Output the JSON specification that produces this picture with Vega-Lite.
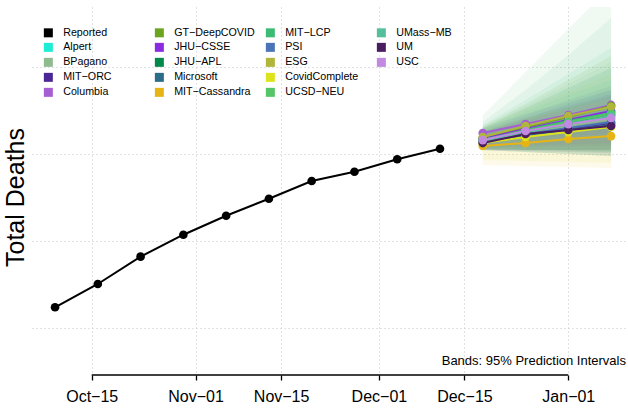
{
  "$schema": "https://vega.github.io/schema/vega-lite/v6.json",
  "width": 596,
  "height": 365,
  "autosize": {"type": "none"},
  "padding": {"left": 32, "top": 7, "right": 0, "bottom": 36},
  "background": "white",
  "config": {
    "view": {"stroke": null},
    "font": "Liberation Sans",
    "axis": {"labelColor": "black", "titleColor": "black", "titleFontWeight": "normal"}
  },
  "data": {
    "values": [
      {"model": "Reported", "date": "2020-10-09", "deaths": 211900},
      {"model": "Reported", "date": "2020-10-16", "deaths": 225300},
      {"model": "Reported", "date": "2020-10-23", "deaths": 241000},
      {"model": "Reported", "date": "2020-10-30", "deaths": 253600},
      {"model": "Reported", "date": "2020-11-06", "deaths": 264500},
      {"model": "Reported", "date": "2020-11-13", "deaths": 274300},
      {"model": "Reported", "date": "2020-11-20", "deaths": 284500},
      {"model": "Reported", "date": "2020-11-27", "deaths": 289800},
      {"model": "Reported", "date": "2020-12-04", "deaths": 297000},
      {"model": "Reported", "date": "2020-12-11", "deaths": 303000},

      {"model": "Alpert", "date": "2020-12-18", "deaths": 308000, "lo": 302900, "hi": 314400},
      {"model": "Alpert", "date": "2020-12-25", "deaths": 313800, "lo": 302300, "hi": 324100},
      {"model": "Alpert", "date": "2021-01-01", "deaths": 319000, "lo": 302300, "hi": 333900},
      {"model": "Alpert", "date": "2021-01-08", "deaths": 324100, "lo": 302900, "hi": 342500},

      {"model": "BPagano", "date": "2020-12-18", "deaths": 307500, "lo": 302300, "hi": 315500},
      {"model": "BPagano", "date": "2020-12-25", "deaths": 312100, "lo": 301700, "hi": 327600},
      {"model": "BPagano", "date": "2021-01-01", "deaths": 316100, "lo": 301100, "hi": 340200},
      {"model": "BPagano", "date": "2021-01-08", "deaths": 320100, "lo": 300600, "hi": 352900},

      {"model": "MIT-ORC", "date": "2020-12-18", "deaths": 306900, "lo": 302300, "hi": 312600},
      {"model": "MIT-ORC", "date": "2020-12-25", "deaths": 310900, "lo": 301700, "hi": 319500},
      {"model": "MIT-ORC", "date": "2021-01-01", "deaths": 314400, "lo": 301100, "hi": 326400},
      {"model": "MIT-ORC", "date": "2021-01-08", "deaths": 317800, "lo": 300600, "hi": 333300},

      {"model": "Columbia", "date": "2020-12-18", "deaths": 312100, "lo": 308000, "hi": 314900},
      {"model": "Columbia", "date": "2020-12-25", "deaths": 317200, "lo": 309200, "hi": 323000},
      {"model": "Columbia", "date": "2021-01-01", "deaths": 322400, "lo": 310300, "hi": 329900},
      {"model": "Columbia", "date": "2021-01-08", "deaths": 328200, "lo": 311500, "hi": 336800},

      {"model": "GT-DeepCOVID", "date": "2020-12-18", "deaths": 309200, "lo": 303400, "hi": 316100},
      {"model": "GT-DeepCOVID", "date": "2020-12-25", "deaths": 315500, "lo": 304000, "hi": 328700},
      {"model": "GT-DeepCOVID", "date": "2021-01-01", "deaths": 321300, "lo": 304600, "hi": 342500},
      {"model": "GT-DeepCOVID", "date": "2021-01-08", "deaths": 327600, "lo": 304600, "hi": 356300},

      {"model": "JHU-CSSE", "date": "2020-12-18", "deaths": 308600, "lo": 304600, "hi": 313200},
      {"model": "JHU-CSSE", "date": "2020-12-25", "deaths": 314400, "lo": 305200, "hi": 320700},
      {"model": "JHU-CSSE", "date": "2021-01-01", "deaths": 319500, "lo": 305700, "hi": 327600},
      {"model": "JHU-CSSE", "date": "2021-01-08", "deaths": 324700, "lo": 306300, "hi": 334500},

      {"model": "JHU-APL", "date": "2020-12-18", "deaths": 308000, "lo": 302900, "hi": 314900},
      {"model": "JHU-APL", "date": "2020-12-25", "deaths": 313200, "lo": 302300, "hi": 326400},
      {"model": "JHU-APL", "date": "2021-01-01", "deaths": 317800, "lo": 302300, "hi": 337900},
      {"model": "JHU-APL", "date": "2021-01-08", "deaths": 322400, "lo": 301700, "hi": 349400},

      {"model": "Microsoft", "date": "2020-12-18", "deaths": 306900, "lo": 302300, "hi": 312600},
      {"model": "Microsoft", "date": "2020-12-25", "deaths": 310900, "lo": 301100, "hi": 320700},
      {"model": "Microsoft", "date": "2021-01-01", "deaths": 313800, "lo": 300000, "hi": 328700},
      {"model": "Microsoft", "date": "2021-01-08", "deaths": 316700, "lo": 298900, "hi": 336800},

      {"model": "MIT-Cassandra", "date": "2020-12-18", "deaths": 304600, "lo": 293700, "hi": 310300},
      {"model": "MIT-Cassandra", "date": "2020-12-25", "deaths": 306300, "lo": 293100, "hi": 313800},
      {"model": "MIT-Cassandra", "date": "2021-01-01", "deaths": 308600, "lo": 292500, "hi": 317200},
      {"model": "MIT-Cassandra", "date": "2021-01-08", "deaths": 310300, "lo": 292000, "hi": 320700},

      {"model": "MIT-LCP", "date": "2020-12-18", "deaths": 308000, "lo": 303400, "hi": 316700},
      {"model": "MIT-LCP", "date": "2020-12-25", "deaths": 313800, "lo": 302300, "hi": 331000},
      {"model": "MIT-LCP", "date": "2021-01-01", "deaths": 319000, "lo": 301700, "hi": 346000},
      {"model": "MIT-LCP", "date": "2021-01-08", "deaths": 323600, "lo": 301100, "hi": 360900},

      {"model": "PSI", "date": "2020-12-18", "deaths": 306900, "lo": 302300, "hi": 313800},
      {"model": "PSI", "date": "2020-12-25", "deaths": 311500, "lo": 301100, "hi": 322400},
      {"model": "PSI", "date": "2021-01-01", "deaths": 314900, "lo": 300000, "hi": 331000},
      {"model": "PSI", "date": "2021-01-08", "deaths": 318400, "lo": 298900, "hi": 339100},

      {"model": "ESG", "date": "2020-12-18", "deaths": 309800, "lo": 303400, "hi": 314900},
      {"model": "ESG", "date": "2020-12-25", "deaths": 316100, "lo": 302900, "hi": 325300},
      {"model": "ESG", "date": "2021-01-01", "deaths": 321800, "lo": 302300, "hi": 335600},
      {"model": "ESG", "date": "2021-01-08", "deaths": 327000, "lo": 302300, "hi": 346000},

      {"model": "CovidComplete", "date": "2020-12-18", "deaths": 306300, "lo": 296600, "hi": 313800},
      {"model": "CovidComplete", "date": "2020-12-25", "deaths": 309800, "lo": 296000, "hi": 320700},
      {"model": "CovidComplete", "date": "2021-01-01", "deaths": 312600, "lo": 295400, "hi": 326400},
      {"model": "CovidComplete", "date": "2021-01-08", "deaths": 315500, "lo": 294800, "hi": 332200},

      {"model": "UCSD-NEU", "date": "2020-12-18", "deaths": 307500, "lo": 302300, "hi": 322400},
      {"model": "UCSD-NEU", "date": "2020-12-25", "deaths": 313200, "lo": 301100, "hi": 347100},
      {"model": "UCSD-NEU", "date": "2021-01-01", "deaths": 318400, "lo": 300000, "hi": 371800},
      {"model": "UCSD-NEU", "date": "2021-01-08", "deaths": 323000, "lo": 298900, "hi": 396600},

      {"model": "UMass-MB", "date": "2020-12-18", "deaths": 307500, "lo": 302900, "hi": 318400},
      {"model": "UMass-MB", "date": "2020-12-25", "deaths": 312600, "lo": 302300, "hi": 336800},
      {"model": "UMass-MB", "date": "2021-01-01", "deaths": 317200, "lo": 301700, "hi": 356900},
      {"model": "UMass-MB", "date": "2021-01-08", "deaths": 321800, "lo": 301100, "hi": 378200},

      {"model": "UM", "date": "2020-12-18", "deaths": 306300, "lo": 302300, "hi": 311500},
      {"model": "UM", "date": "2020-12-25", "deaths": 311500, "lo": 302300, "hi": 317200},
      {"model": "UM", "date": "2021-01-01", "deaths": 313800, "lo": 302300, "hi": 322400},
      {"model": "UM", "date": "2021-01-08", "deaths": 316100, "lo": 302300, "hi": 327600},

      {"model": "USC", "date": "2020-12-18", "deaths": 308000, "lo": 303400, "hi": 312600},
      {"model": "USC", "date": "2020-12-25", "deaths": 313200, "lo": 304000, "hi": 319500},
      {"model": "USC", "date": "2021-01-01", "deaths": 317200, "lo": 304600, "hi": 325300},
      {"model": "USC", "date": "2021-01-08", "deaths": 320700, "lo": 305200, "hi": 331000}
    ]
  },
  "layer": [
    {
      "encoding": {
        "x": {
          "field": "date",
          "type": "temporal",
          "scale": {
            "type": "utc",
            "domain": [
              {"year": 2020, "month": 10, "date": 5, "hours": 5, "minutes": 30, "utc": true},
              {"year": 2021, "month": 1, "date": 10, "hours": 18, "minutes": 30, "utc": true}
            ]
          },
          "axis": {
            "values": [
              {"year": 2020, "month": 10, "date": 15, "utc": true},
              {"year": 2020, "month": 11, "date": 1, "utc": true},
              {"year": 2020, "month": 11, "date": 15, "utc": true},
              {"year": 2020, "month": 12, "date": 1, "utc": true},
              {"year": 2020, "month": 12, "date": 15, "utc": true},
              {"year": 2021, "month": 1, "date": 1, "utc": true}
            ],
            "format": "%b\u2212%d",
            "title": null,
            "domain": false,
            "offset": 3,
            "ticks": true,
            "tickColor": "black",
            "tickSize": 5,
            "tickWidth": 1.3,
            "labelFontSize": 16,
            "labelPadding": 8,
            "grid": true,
            "gridDash": [1, 3],
            "gridColor": "#c4c4c4",
            "gridWidth": 1
          }
        },
        "color": {
          "field": "model",
          "type": "nominal",
          "scale": {
            "domain": ["Reported", "Alpert", "BPagano", "MIT-ORC", "Columbia", "GT-DeepCOVID", "JHU-CSSE", "JHU-APL", "Microsoft", "MIT-Cassandra", "MIT-LCP", "PSI", "ESG", "CovidComplete", "UCSD-NEU", "UMass-MB", "UM", "USC", " "],
            "range": ["#000000", "#1DEDD5", "#8FBC8F", "#4B2795", "#A55FD2", "#6BA520", "#8A2BE2", "#00894A", "#2B6C8A", "#E6B414", "#3CBB75", "#4B74B8", "#B0B53C", "#DDE31A", "#56C566", "#55BE9C", "#4A1D5F", "#C18AE0", "transparent"]
          },
          "legend": {
            "orient": "none",
            "legendX": 11,
            "legendY": 20,
            "columns": 4,
            "direction": "vertical",
            "gridAlign": "all",
            "columnPadding": 10,
            "rowPadding": 3,
            "title": null,
            "labelFontSize": 10.7,
            "labelColor": "black",
            "labelOffset": 9.5,
            "symbolType": "square",
            "symbolSize": 81,
            "symbolStrokeWidth": 0,
            "symbolOpacity": 1,
            "labelExpr": "replace(datum.label, /-/g, '\u2212')"
          }
        }
      },
      "layer": [
        {
          "transform": [{"filter": "isValid(datum.lo)"}],
          "mark": {"type": "area", "opacity": 0.085, "clip": true},
          "encoding": {
            "y": {
              "field": "lo",
              "type": "quantitative",
              "scale": {"domain": [174700, 384500], "nice": false, "zero": false},
              "axis": {
                "values": [200000, 250000, 300000, 350000],
                "labels": false,
                "ticks": false,
                "domain": false,
                "grid": true,
                "gridDash": [1, 3],
                "gridColor": "#c4c4c4",
                "title": "Total Deaths",
                "titleFontSize": 25,
                "titlePadding": 4,
                "titleY": 190
              }
            },
            "y2": {"field": "hi"}
          }
        },
        {
          "mark": {"type": "line", "strokeWidth": 2},
          "encoding": {
            "y": {"field": "deaths", "type": "quantitative", "axis": {"title": "Total Deaths"}}
          }
        },
        {
          "mark": {"type": "point", "filled": true, "size": 75, "opacity": 1},
          "encoding": {
            "y": {"field": "deaths", "type": "quantitative", "axis": {"title": "Total Deaths"}}
          }
        }
      ]
    },
    {
      "data": {"values": [{"from": "2020-10-15", "to": "2021-01-01"}]},
      "mark": {"type": "rule", "color": "black", "strokeWidth": 1.6, "strokeCap": "butt"},
      "encoding": {
        "x": {"field": "from", "type": "temporal"},
        "x2": {"field": "to"},
        "y": {"datum": 173000, "type": "quantitative"}
      }
    },
    {
      "data": {"values": [{"label": "Bands: 95% Prediction Intervals", "when": "2021-01-10T18:30:00Z", "level": 178700}]},
      "mark": {"type": "text", "align": "right", "baseline": "alphabetic", "fontSize": 13, "color": "black", "dx": -2},
      "encoding": {
        "x": {"field": "when", "type": "temporal"},
        "y": {"field": "level", "type": "quantitative"},
        "text": {"field": "label"}
      }
    }
  ]
}
